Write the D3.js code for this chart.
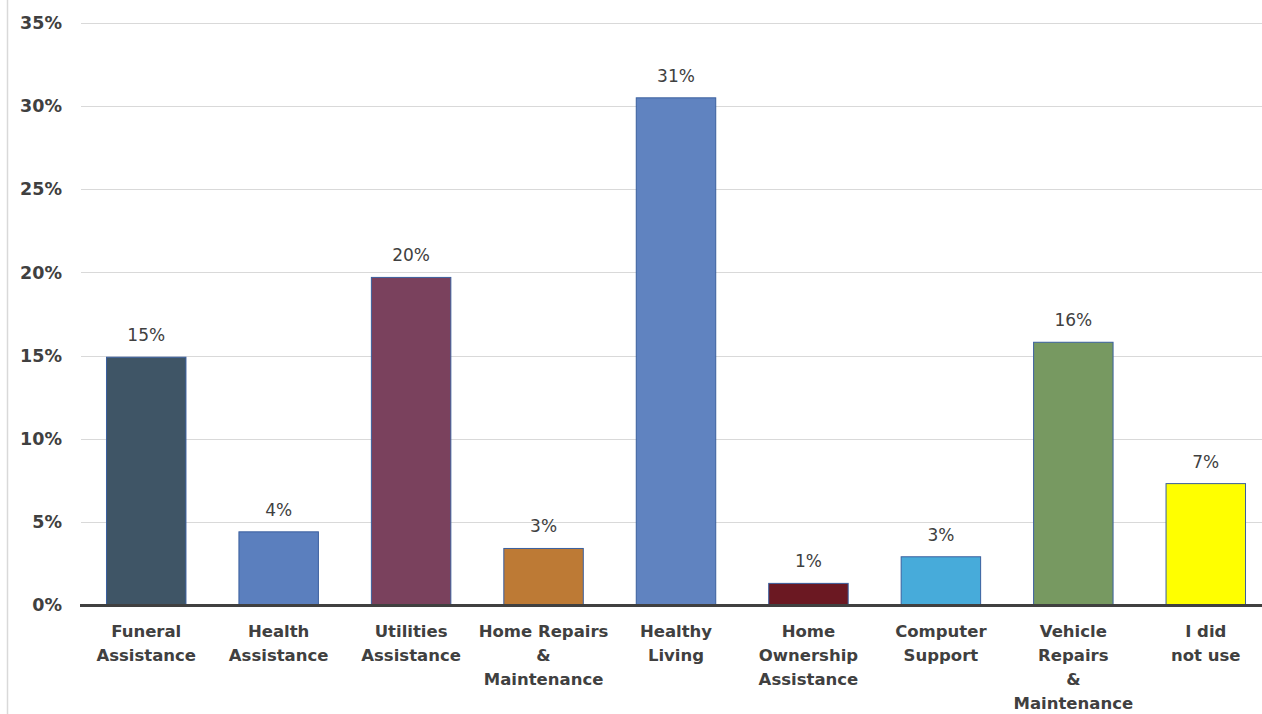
<!DOCTYPE html>
<html>
<head>
<meta charset="utf-8">
<script src="https://cdn.jsdelivr.net/npm/d3@7"></script>
<style>
  body { margin: 0; background: #fff; }
  svg { display: block; font-family: "DejaVu Sans", sans-serif; }
</style>
</head>
<body>
<div id="chart"></div>
<script>
// Data
const categories = [
  ["Funeral", "Assistance"],
  ["Health", "Assistance"],
  ["Utilities", "Assistance"],
  ["Home Repairs", "&", "Maintenance"],
  ["Healthy", "Living"],
  ["Home", "Ownership", "Assistance"],
  ["Computer", "Support"],
  ["Vehicle", "Repairs", "&", "Maintenance"],
  ["I did", "not use"]
];
const values = [14.9, 4.4, 19.7, 3.4, 30.5, 1.3, 2.9, 15.8, 7.3];
const labels = ["15%", "4%", "20%", "3%", "31%", "1%", "3%", "16%", "7%"];
const barColors = ["#3F5566", "#5B7FBE", "#7A415D", "#BD7A35", "#6083C0", "#6B1822", "#47ABDA", "#779961", "#FFFF00"];
const yTicks = [0, 5, 10, 15, 20, 25, 30, 35];

const width = 1262;
const height = 714;
const margin = { top: 23, right: -10, bottom: 109, left: 80 };

const svg = d3.select("#chart")
  .append("svg")
  .attr("width", width)
  .attr("height", height);

const x = d3.scaleBand()
  .domain(d3.range(categories.length))
  .range([margin.left, width - margin.right])
  .paddingInner(0.4)
  .paddingOuter(0.2);

const y = d3.scaleLinear()
  .domain([0, 35])
  .range([height - margin.bottom, margin.top]);

// left border line
svg.append("line")
  .attr("x1", 7.5).attr("x2", 7.5)
  .attr("y1", 0).attr("y2", height)
  .attr("stroke", "#d9d9d9")
  .attr("stroke-width", 1.5);

// gridlines
svg.append("g")
  .selectAll("line")
  .data(yTicks.filter(d => d > 0))
  .join("line")
  .attr("x1", margin.left + 1)
  .attr("x2", width)
  .attr("y1", d => Math.round(y(d)) + 0.5)
  .attr("y2", d => Math.round(y(d)) + 0.5)
  .attr("stroke", "#d9d9d9")
  .attr("stroke-width", 1);

// y tick labels
svg.append("g")
  .selectAll("text")
  .data(yTicks)
  .join("text")
  .attr("x", 62)
  .attr("y", d => y(d))
  .attr("dy", "0.35em")
  .attr("text-anchor", "end")
  .attr("fill", "#404040")
  .attr("font-size", 17.5)
  .attr("font-weight", "bold")
  .text(d => d + "%");

// bars
svg.append("g")
  .selectAll("rect")
  .data(values)
  .join("rect")
  .attr("x", (d, i) => x(i))
  .attr("y", d => y(d))
  .attr("width", x.bandwidth())
  .attr("height", d => y(0) - y(d))
  .attr("fill", (d, i) => barColors[i])
  .attr("stroke", "#3A5F9E")
  .attr("stroke-width", 1);

// value labels
svg.append("g")
  .selectAll("text")
  .data(values)
  .join("text")
  .attr("x", (d, i) => x(i) + x.bandwidth() / 2)
  .attr("y", d => y(d) - 22)
  .attr("dy", "0.35em")
  .attr("text-anchor", "middle")
  .attr("fill", "#404040")
  .attr("font-size", 17)
  .text((d, i) => labels[i]);

// baseline
svg.append("line")
  .attr("x1", margin.left)
  .attr("x2", width)
  .attr("y1", y(0) + 0.5)
  .attr("y2", y(0) + 0.5)
  .attr("stroke", "#404040")
  .attr("stroke-width", 3);

// category labels
const catG = svg.append("g")
  .selectAll("text")
  .data(categories)
  .join("text")
  .attr("x", (d, i) => x(i) + x.bandwidth() / 2)
  .attr("y", y(0) + 26)
  .attr("text-anchor", "middle")
  .attr("fill", "#404040")
  .attr("font-size", 16.5)
  .attr("font-weight", "bold");

catG.selectAll("tspan")
  .data(d => d)
  .join("tspan")
  .attr("x", function () { return this.parentNode.getAttribute("x"); })
  .attr("dy", (d, i) => i === 0 ? "0.35em" : 24)
  .text(d => d);
</script>
</body>
</html>
